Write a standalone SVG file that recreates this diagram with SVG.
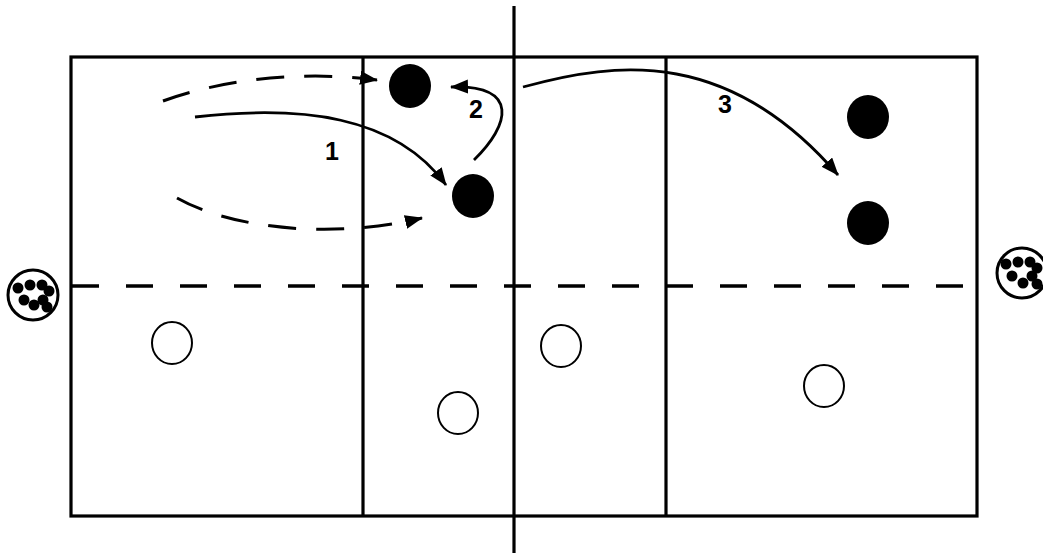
<svg xmlns="http://www.w3.org/2000/svg" width="1043" height="557" viewBox="0 0 1043 557">
<style>
.line{fill:none;stroke:#000;stroke-width:3.2}
.dash{fill:none;stroke:#000;stroke-width:3.5;stroke-dasharray:27 27}
.pass{fill:none;stroke:#000;stroke-width:2.8;marker-end:url(#ah)}
.run{fill:none;stroke:#000;stroke-width:3;stroke-dasharray:28 20;marker-end:url(#ah)}
.filled{fill:#000}
.open{fill:#fff;stroke:#000;stroke-width:2}
.bag{fill:#fff;stroke:#000;stroke-width:3}
.lbl{font-family:"Liberation Sans",Arial,sans-serif;font-weight:bold;font-size:25px;fill:#000;text-anchor:middle}
</style>
<defs>
<marker id="ah" markerUnits="userSpaceOnUse" markerWidth="20" markerHeight="16" refX="17" refY="7" orient="auto">
<path d="M0,0 L18,7 L0,14 z" fill="#000"/>
</marker>
</defs>
<rect width="1043" height="557" fill="#fff"/>
<g id="court">
<rect class="line" x="71" y="57" width="906" height="459"/>
<line class="line" x1="363" y1="57" x2="363" y2="516"/>
<line class="line" x1="666" y1="57" x2="666" y2="516"/>
<line class="dash" x1="72" y1="286" x2="977" y2="286"/>
<line class="line" x1="514" y1="6" x2="514" y2="553"/>
</g>
<g id="connectors">
<path class="run" d="M163,101 C220,80 300,70 377,80"/>
<path class="run" d="M177,198 C230,228 330,240 422,218"/>
<path class="pass" d="M195,117 C300,105 395,115 446,185"/>
<path class="pass" d="M474,160 C510,125 520,85 451,87"/>
<path class="pass" d="M523,87 C620,60 730,50 838,175"/>
</g>
<g id="labels">
<text class="lbl" x="332" y="160">1</text>
<text class="lbl" x="476" y="118">2</text>
<text class="lbl" x="725" y="113">3</text>
</g>
<g id="attacker-1"><ellipse class="filled" cx="410" cy="86" rx="21" ry="22"/></g>
<g id="attacker-2"><ellipse class="filled" cx="473" cy="196" rx="21" ry="22"/></g>
<g id="attacker-3"><ellipse class="filled" cx="868" cy="117" rx="21" ry="22"/></g>
<g id="attacker-4"><ellipse class="filled" cx="868" cy="223" rx="21" ry="22"/></g>
<g id="defender-1"><ellipse class="open" cx="172" cy="343" rx="20" ry="21"/></g>
<g id="defender-2"><ellipse class="open" cx="458" cy="413" rx="20" ry="21"/></g>
<g id="defender-3"><ellipse class="open" cx="561" cy="346" rx="20" ry="21"/></g>
<g id="defender-4"><ellipse class="open" cx="824" cy="386" rx="20" ry="21"/></g>
<g id="ball-bag-left">
<circle class="bag" cx="33" cy="295" r="25"/>
<circle cx="18" cy="288" r="5.5"/><circle cx="30" cy="285" r="5.5"/><circle cx="42" cy="285" r="5.5"/><circle cx="49" cy="291" r="5.5"/>
<circle cx="24" cy="300" r="5.5"/><circle cx="43" cy="300" r="5.5"/><circle cx="34" cy="305" r="5.5"/><circle cx="47" cy="307" r="5.5"/>
</g>
<g id="ball-bag-right">
<circle class="bag" cx="1022" cy="273" r="25"/>
<circle cx="1006" cy="264" r="5.5"/><circle cx="1018" cy="262" r="5.5"/><circle cx="1030" cy="262" r="5.5"/><circle cx="1037" cy="268" r="5.5"/>
<circle cx="1012" cy="276" r="5.5"/><circle cx="1032" cy="276" r="5.5"/><circle cx="1023" cy="283" r="5.5"/><circle cx="1037" cy="284" r="5.5"/>
</g>
</svg>
